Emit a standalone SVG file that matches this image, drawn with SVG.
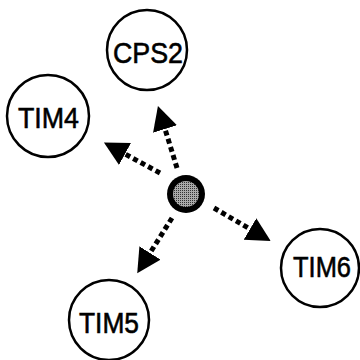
<svg xmlns="http://www.w3.org/2000/svg" width="360" height="360" viewBox="0 0 360 360">
  <style>
    .node circle { fill: #fff; stroke: #000; stroke-width: 2.5; }
    .node text { font-family: "Liberation Sans", Arial, sans-serif; font-size: 30px; fill: #000; stroke: #000; stroke-width: 0.6; text-anchor: middle; }
    .edge { stroke: #000; stroke-width: 5; stroke-dasharray: 5 3.5; fill: none; marker-end: url(#head); }
  </style>
  <defs>
    <marker id="head" markerUnits="userSpaceOnUse" markerWidth="26" markerHeight="26" refX="0" refY="12.5" orient="auto" viewBox="0 0 26 26">
      <path d="M0,0 L24,12.5 L0,25 Z" fill="#000"/>
    </marker>
    <pattern id="stipple" width="2" height="2" patternUnits="userSpaceOnUse">
      <rect width="2" height="2" fill="#aaa"/>
      <rect width="1" height="1" fill="#333"/>
    </pattern>
  </defs>
  <g id="connectors">
    <line class="edge" x1="177" y1="168" x2="165" y2="129"/>
    <line class="edge" x1="160" y1="173" x2="125" y2="154"/>
    <line class="edge" x1="172" y1="218" x2="150" y2="253"/>
    <line class="edge" x1="214" y1="208" x2="250" y2="229"/>
  </g>
  <g id="hub">
    <circle cx="186" cy="194" r="19" fill="#000"/>
    <circle cx="186" cy="194" r="13" fill="url(#stipple)"/>
  </g>
  <g id="CPS2" class="node">
    <circle cx="147" cy="50" r="40"/>
    <text x="148" y="63" textLength="70" lengthAdjust="spacingAndGlyphs">CPS2</text>
  </g>
  <g id="TIM4" class="node">
    <circle cx="48" cy="116" r="41"/>
    <text x="48.5" y="128" textLength="61" lengthAdjust="spacingAndGlyphs">TIM4</text>
  </g>
  <g id="TIM6" class="node">
    <circle cx="320" cy="268" r="39"/>
    <text x="322" y="277" textLength="58" lengthAdjust="spacingAndGlyphs">TIM6</text>
  </g>
  <g id="TIM5" class="node">
    <circle cx="109" cy="320" r="40"/>
    <text x="109" y="333" textLength="60" lengthAdjust="spacingAndGlyphs">TIM5</text>
  </g>
</svg>
